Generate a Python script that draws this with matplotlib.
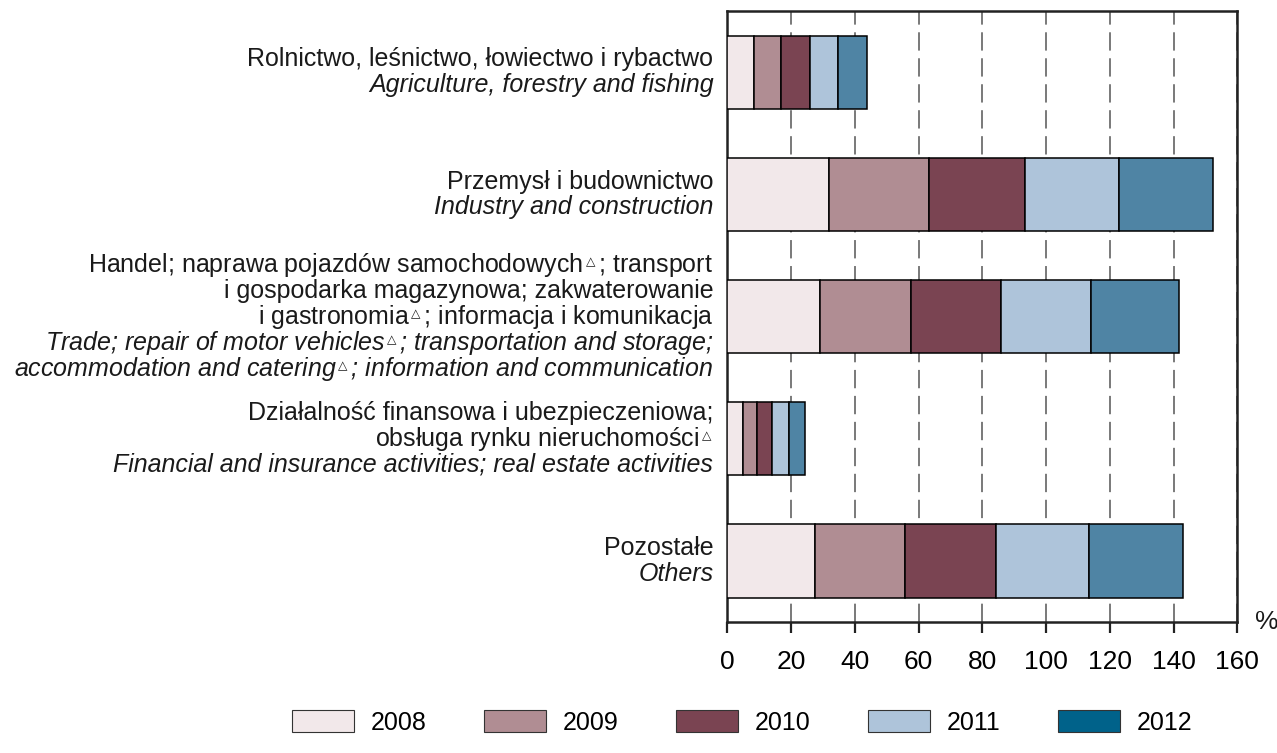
import numpy as np
import matplotlib
matplotlib.use("Agg")
import matplotlib.pyplot as plt
from matplotlib.patches import Patch

plt.rcParams['font.family'] = ['Liberation Sans', 'DejaVu Sans']

years = ['2008', '2009', '2010', '2011', '2012']
# values per sector (top to bottom), one list per year
v2008 = [8.5, 32.0, 29.1, 4.8, 27.5]
v2009 = [8.3, 31.3, 28.5, 4.6, 28.2]
v2010 = [9.0, 30.2, 28.4, 4.6, 28.7]
v2011 = [9.0, 29.5, 28.0, 5.3, 29.1]
v2012 = [9.0, 29.3, 27.8, 5.2, 29.5]
series = [v2008, v2009, v2010, v2011, v2012]

tri = r'$^{_{\triangle}}$'
labels_pl = [
    ["Rolnictwo, leśnictwo, łowiectwo i rybactwo"],
    ["Przemysł i budownictwo"],
    ["Handel; naprawa pojazdów samochodowych" + tri + "; transport",
     "i gospodarka magazynowa; zakwaterowanie",
     "i gastronomia" + tri + "; informacja i komunikacja"],
    ["Działalność finansowa i ubezpieczeniowa;",
     "obsługa rynku nieruchomości" + tri],
    ["Pozostałe"],
]
labels_en = [
    ["Agriculture, forestry and fishing"],
    ["Industry and construction"],
    ["Trade; repair of motor vehicles" + tri + "; transportation and storage;",
     "accommodation and catering" + tri + "; information and communication"],
    ["Financial and insurance activities; real estate activities"],
    ["Others"],
]

bar_colors = ['#F2E8EA', '#B08D93', '#7A4452', '#AEC4DA', '#4F84A4']
legend_colors = ['#F2E8EA', '#B08D93', '#7A4452', '#AEC4DA', '#00628A']

fig = plt.figure(figsize=(12.77, 7.53), dpi=100)
ax = fig.add_axes([0.5695, 0.174, 0.3995, 0.811])

y = np.arange(len(v2008))
left = np.zeros(len(y))
for vals, c in zip(series, bar_colors):
    ax.barh(y, vals, left=left, height=0.6, color=c, edgecolor='black',
            linewidth=1.1, zorder=3)
    left = left + np.array(vals)

ax.set_xlim(0, 160)
ax.set_ylim(4.5, -0.5)
ax.set_xticks(np.arange(0, 161, 20))
ax.set_yticks([])
ax.tick_params(axis='x', direction='out', length=8, width=1.6, pad=12,
               labelsize=19, color='#222222')
ax.xaxis.grid(True, color='#555555', linewidth=1.1, linestyle=(0, (12, 5)),
              zorder=0)
for s in ax.spines.values():
    s.set_linewidth(1.8)
    s.set_color('#222222')

# category labels: Polish in regular, English in italic
line_h = 18.7
for i in range(len(y)):
    lines = [(t, 'normal') for t in labels_pl[i]] + \
            [(t, 'italic') for t in labels_en[i]]
    n = len(lines)
    for k, (txt, st) in enumerate(lines):
        off = ((n - 1) / 2 - k) * line_h
        ax.annotate(txt, xy=(0, i), xycoords=('axes fraction', 'data'),
                    xytext=(-10, off), textcoords='offset points',
                    ha='right', va='center', fontsize=18, style=st,
                    color='#1a1a1a', annotation_clip=False)

ax.text(1.057, 0.0, '%', transform=ax.transAxes, fontsize=19,
        ha='center', va='center', color='#1a1a1a')

handles = [Patch(facecolor=c, edgecolor='#333333', linewidth=0.8)
           for c in legend_colors]
fig.legend(handles, years, loc='center', bbox_to_anchor=(0.581, 0.041),
           ncol=5, frameon=False, fontsize=18, handlelength=2.5,
           handleheight=1.0, handletextpad=0.65, columnspacing=2.3)

fig.savefig('out.png', dpi=100)
